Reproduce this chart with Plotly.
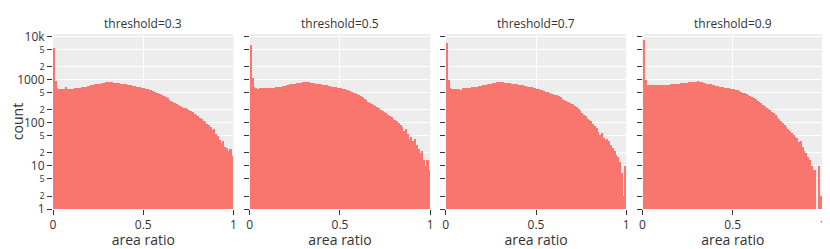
import plotly.graph_objects as go
from plotly.subplots import make_subplots

thresholds = ["threshold=0.3", "threshold=0.5", "threshold=0.7", "threshold=0.9"]
bin_size = 0.01
bin_left = [round(i * bin_size, 2) for i in range(100)]

counts_03 = [5500, 950, 640, 600, 590, 600, 610, 680, 600, 610,
             620, 615, 630, 625, 640, 650, 660, 670, 690, 700,
             720, 740, 760, 770, 790, 800, 810, 830, 850, 870,
             880, 870, 860, 850, 840, 830, 815, 800, 790, 780,
             770, 760, 750, 735, 720, 705, 690, 675, 660, 645,
             630, 615, 600, 580, 560, 540, 520, 500, 480, 460,
             440, 415, 390, 365, 340, 320, 300, 280, 265, 255,
             245, 235, 225, 215, 205, 195, 185, 175, 162, 150,
             140, 130, 120, 112, 104, 95, 88, 80, 66, 72,
             55, 48, 40, 34, 38, 28, 26, 22, 24, 17]

counts_05 = [6300, 1070, 660, 630, 620, 630, 625, 640, 630, 635,
             640, 630, 650, 645, 660, 670, 680, 690, 700, 720,
             740, 750, 770, 780, 790, 800, 820, 830, 850, 870,
             875, 865, 860, 850, 840, 825, 810, 800, 790, 770,
             755, 740, 730, 715, 700, 690, 675, 660, 650, 640,
             630, 610, 595, 580, 560, 540, 520, 500, 480, 460,
             440, 415, 390, 360, 335, 310, 290, 270, 255, 240,
             230, 215, 200, 190, 178, 168, 155, 145, 135, 125,
             117, 108, 100, 90, 80, 63, 70, 55, 43, 47,
             37, 41, 30, 25, 20, 22, 14, 10, 14, 8]

counts_07 = [6900, 1000, 650, 610, 620, 600, 610, 620, 580, 630,
             640, 635, 640, 650, 655, 665, 670, 690, 705, 720,
             740, 750, 760, 780, 800, 810, 830, 840, 860, 870,
             880, 860, 855, 840, 830, 820, 810, 800, 785, 770,
             760, 745, 730, 720, 705, 690, 675, 660, 645, 630,
             620, 600, 585, 565, 545, 525, 505, 490, 475, 460,
             450, 430, 410, 385, 360, 340, 320, 300, 285, 275,
             265, 250, 230, 210, 190, 170, 155, 140, 125, 115,
             107, 95, 85, 75, 60, 52, 58, 45, 40, 42,
             37, 30, 26, 22, 18, 16, 12, 7, 2, 10]

counts_09 = [8300, 1000, 760, 740, 730, 735, 730, 740, 735, 740,
             745, 740, 745, 750, 760, 770, 780, 790, 800, 805,
             810, 820, 830, 840, 850, 860, 870, 880, 890, 900,
             905, 890, 870, 850, 830, 810, 790, 770, 750, 735,
             720, 705, 690, 675, 660, 650, 640, 625, 612, 600,
             590, 575, 560, 540, 520, 500, 480, 460, 440, 420,
             400, 375, 350, 325, 300, 280, 260, 240, 220, 205,
             195, 180, 165, 150, 135, 125, 110, 98, 88, 80,
             72, 65, 58, 52, 46, 44, 35, 38, 27, 22,
             20, 16, 14, 10, 8, 8, 1, 10, 2, 2]

series = [counts_03, counts_05, counts_07, counts_09]

fig = make_subplots(rows=1, cols=4, shared_yaxes=True, horizontal_spacing=0.02,
                    subplot_titles=thresholds)

domains = [[0.0, 0.2344], [0.2555, 0.4899], [0.5101, 0.7445], [0.7656, 1.0]]

for i, counts in enumerate(series):
    fig.add_trace(go.Bar(
        x=[b + bin_size / 2 for b in bin_left], y=counts, width=bin_size,
        marker=dict(color="#F8766D", line=dict(width=0)),
        showlegend=False), row=1, col=i + 1)
    fig.update_xaxes(range=[0, 1], tickvals=[0, 0.5, 1], ticktext=["0", "0.5", "1"],
                     domain=domains[i], title_text="area ratio", row=1, col=i + 1)

# keep subplot titles centred over the panels
for a, d in zip(fig.layout.annotations, domains):
    a.x = (d[0] + d[1]) / 2
    a.font = dict(size=12, color="rgb(51,51,51)")

fig.update_yaxes(type="log", range=[0, 4.056], dtick="D2")
fig.update_yaxes(title_text="count", row=1, col=1)

fig.update_layout(template="ggplot2", width=830, height=241,
                  margin=dict(l=45, r=15, t=26, b=40), bargap=0)
fig.update_xaxes(automargin=False, title_standoff=8)
fig.update_yaxes(automargin=False)

fig.write_html("out.html")
